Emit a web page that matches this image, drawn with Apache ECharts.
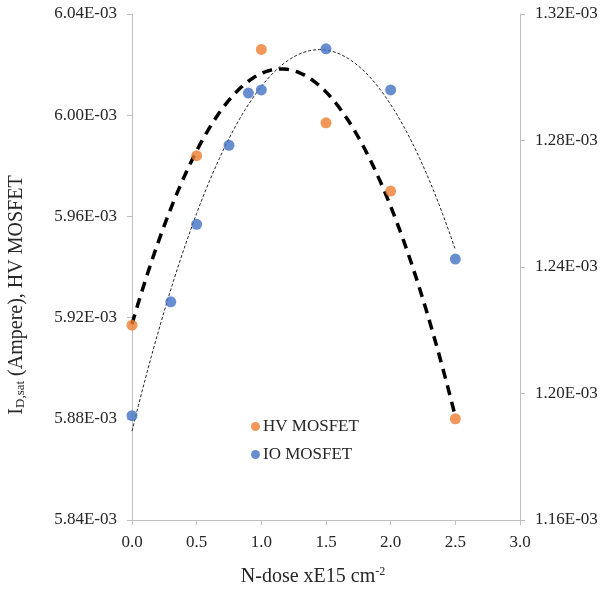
<!DOCTYPE html>
<html>
<head>
<meta charset="utf-8">
<script src="https://cdn.jsdelivr.net/npm/echarts@6/dist/echarts.min.js"></script>
<style>
html,body{margin:0;padding:0;background:#fff;}
#chart{width:602px;height:590px;}
</style>
</head>
<body>
<div id="chart"></div>
<script>
// N-dose (xE15 cm^-2) and saturation drain current (A)
const doseHV = [0, 0.5, 1.0, 1.5, 2.0, 2.5];
const idsatHV = [5.917e-3, 5.984e-3, 6.026e-3, 5.997e-3, 5.970e-3, 5.880e-3];
const doseIO = [0, 0.3, 0.5, 0.75, 0.9, 1.0, 1.5, 2.0, 2.5];
const idsatIO = [1.193e-3, 1.229e-3, 1.2535e-3, 1.2785e-3, 1.295e-3, 1.296e-3, 1.309e-3, 1.296e-3, 1.2425e-3];
const seriesNames = ['HV MOSFET', 'IO MOSFET'];

// least-squares 2nd-order polynomial trendline (like the spreadsheet trendline)
function polyFit2(xs, ys) {
  let n = xs.length, sx=0, sx2=0, sx3=0, sx4=0, sy=0, sxy=0, sx2y=0;
  for (let i = 0; i < n; i++) {
    const x = xs[i], y = ys[i];
    sx += x; sx2 += x*x; sx3 += x*x*x; sx4 += x*x*x*x;
    sy += y; sxy += x*y; sx2y += x*x*y;
  }
  const A = [[n, sx, sx2, sy],[sx, sx2, sx3, sxy],[sx2, sx3, sx4, sx2y]];
  for (let c = 0; c < 3; c++) {
    for (let r = c+1; r < 3; r++) {
      const f = A[r][c] / A[c][c];
      for (let k = c; k < 4; k++) A[r][k] -= f * A[c][k];
    }
  }
  const b = [0,0,0];
  for (let r = 2; r >= 0; r--) {
    let s = A[r][3];
    for (let k = r+1; k < 3; k++) s -= A[r][k]*b[k];
    b[r] = s / A[r][r];
  }
  return b;
}
function trend(xs, ys) {
  const b = polyFit2(xs, ys);
  const x0 = Math.min(...xs), x1 = Math.max(...xs);
  const pts = [];
  const N = 100;
  for (let i = 0; i <= N; i++) {
    const x = x0 + (x1 - x0) * i / N;
    pts.push([x, b[0] + b[1]*x + b[2]*x*x]);
  }
  return pts;
}

const font = "'Liberation Serif','Times New Roman',serif";
const txt = '#262626';
const axisCol = '#bfbfbf';
const fmtE = v => (v*1000).toFixed(2) + 'E-03';

const chart = echarts.init(document.getElementById('chart'), null, {renderer:'canvas'});
chart.setOption({
  animation: false,
  backgroundColor: '#fff',
  textStyle: { fontFamily: font },
  grid: { left: 132, right: 82, top: 14, bottom: 70, containLabel: false, outerBoundsMode: 'none' },
  legend: {
    data: seriesNames,
    orient: 'vertical',
    left: 246, top: 413,
    icon: 'circle', itemWidth: 9, itemHeight: 9, itemGap: 11,
    textStyle: { fontFamily: font, fontSize: 17, color: txt, padding: [0,0,0,-2] }
  },
  graphic: [{
    type: 'text',
    x: 17, y: 295,
    rotation: Math.PI/2,
    style: {
      text: '{m|I}{s|D,sat}{m| (Ampere), HV MOSFET}',
      align: 'center', verticalAlign: 'middle',
      rich: {
        m: { fontFamily: font, fontSize: 20, fill: txt, color: txt },
        s: { fontFamily: font, fontSize: 13, fill: txt, color: txt, padding: [8,0,0,0] }
      }
    }
  }],
  xAxis: {
    type: 'value', min: 0, max: 3, interval: 0.5,
    name: '{m|N-dose xE15 cm}{s|-2}',
    nameLocation: 'middle', nameGap: 46,
    nameTextStyle: {
      padding: [0, 26, 0, 0],
      rich: {
        m: { fontFamily: font, fontSize: 20, color: txt },
        s: { fontFamily: font, fontSize: 12, color: txt, padding: [0,0,9,0] }
      }
    },
    axisLine: { show: true, onZero: false, lineStyle: { color: axisCol, width: 1 } },
    axisTick: { show: true, inside: false, length: 5, lineStyle: { color: axisCol } },
    splitLine: { show: false },
    axisLabel: { margin: 14, fontSize: 17, color: txt, fontFamily: font, formatter: v => v.toFixed(1) }
  },
  yAxis: [{
    type: 'value', min: 0.00584, max: 0.00604, interval: 0.00004,
    position: 'left',
    axisLine: { show: true, onZero: false, lineStyle: { color: axisCol, width: 1 } },
    axisTick: { show: true, inside: false, length: 5, lineStyle: { color: axisCol } },
    splitLine: { show: false },
    axisLabel: { margin: 15, fontSize: 17, color: txt, fontFamily: font, formatter: fmtE }
  }, {
    type: 'value', min: 0.00116, max: 0.00132, interval: 0.00004,
    position: 'right',
    axisLine: { show: true, onZero: false, lineStyle: { color: axisCol, width: 1 } },
    axisTick: { show: true, inside: false, length: 5, lineStyle: { color: axisCol } },
    splitLine: { show: false },
    axisLabel: { margin: 15, fontSize: 17, color: txt, fontFamily: font, formatter: fmtE }
  }],
  series: [
    {
      name: 'HV trend', type: 'line', yAxisIndex: 0, showSymbol: false, symbol: 'none', smooth: false,
      data: trend(doseHV, idsatHV),
      lineStyle: { color: '#000', width: 3.5, type: [10, 7], cap: 'butt' },
      silent: true, z: 2
    },
    {
      name: 'IO trend', type: 'line', yAxisIndex: 1, showSymbol: false, symbol: 'none', smooth: false,
      data: trend(doseIO, idsatIO),
      lineStyle: { color: '#222', width: 1, type: [3, 2] },
      silent: true, z: 2
    },
    {
      name: seriesNames[0], type: 'scatter', yAxisIndex: 0, symbolSize: 11,
      itemStyle: { color: '#ED7D31' },
      data: doseHV.map((x, i) => [x, idsatHV[i]]), z: 3
    },
    {
      name: seriesNames[1], type: 'scatter', yAxisIndex: 1, symbolSize: 11,
      itemStyle: { color: '#4472C4' },
      data: doseIO.map((x, i) => [x, idsatIO[i]]), z: 3
    }
  ]
});
</script>
</body>
</html>
